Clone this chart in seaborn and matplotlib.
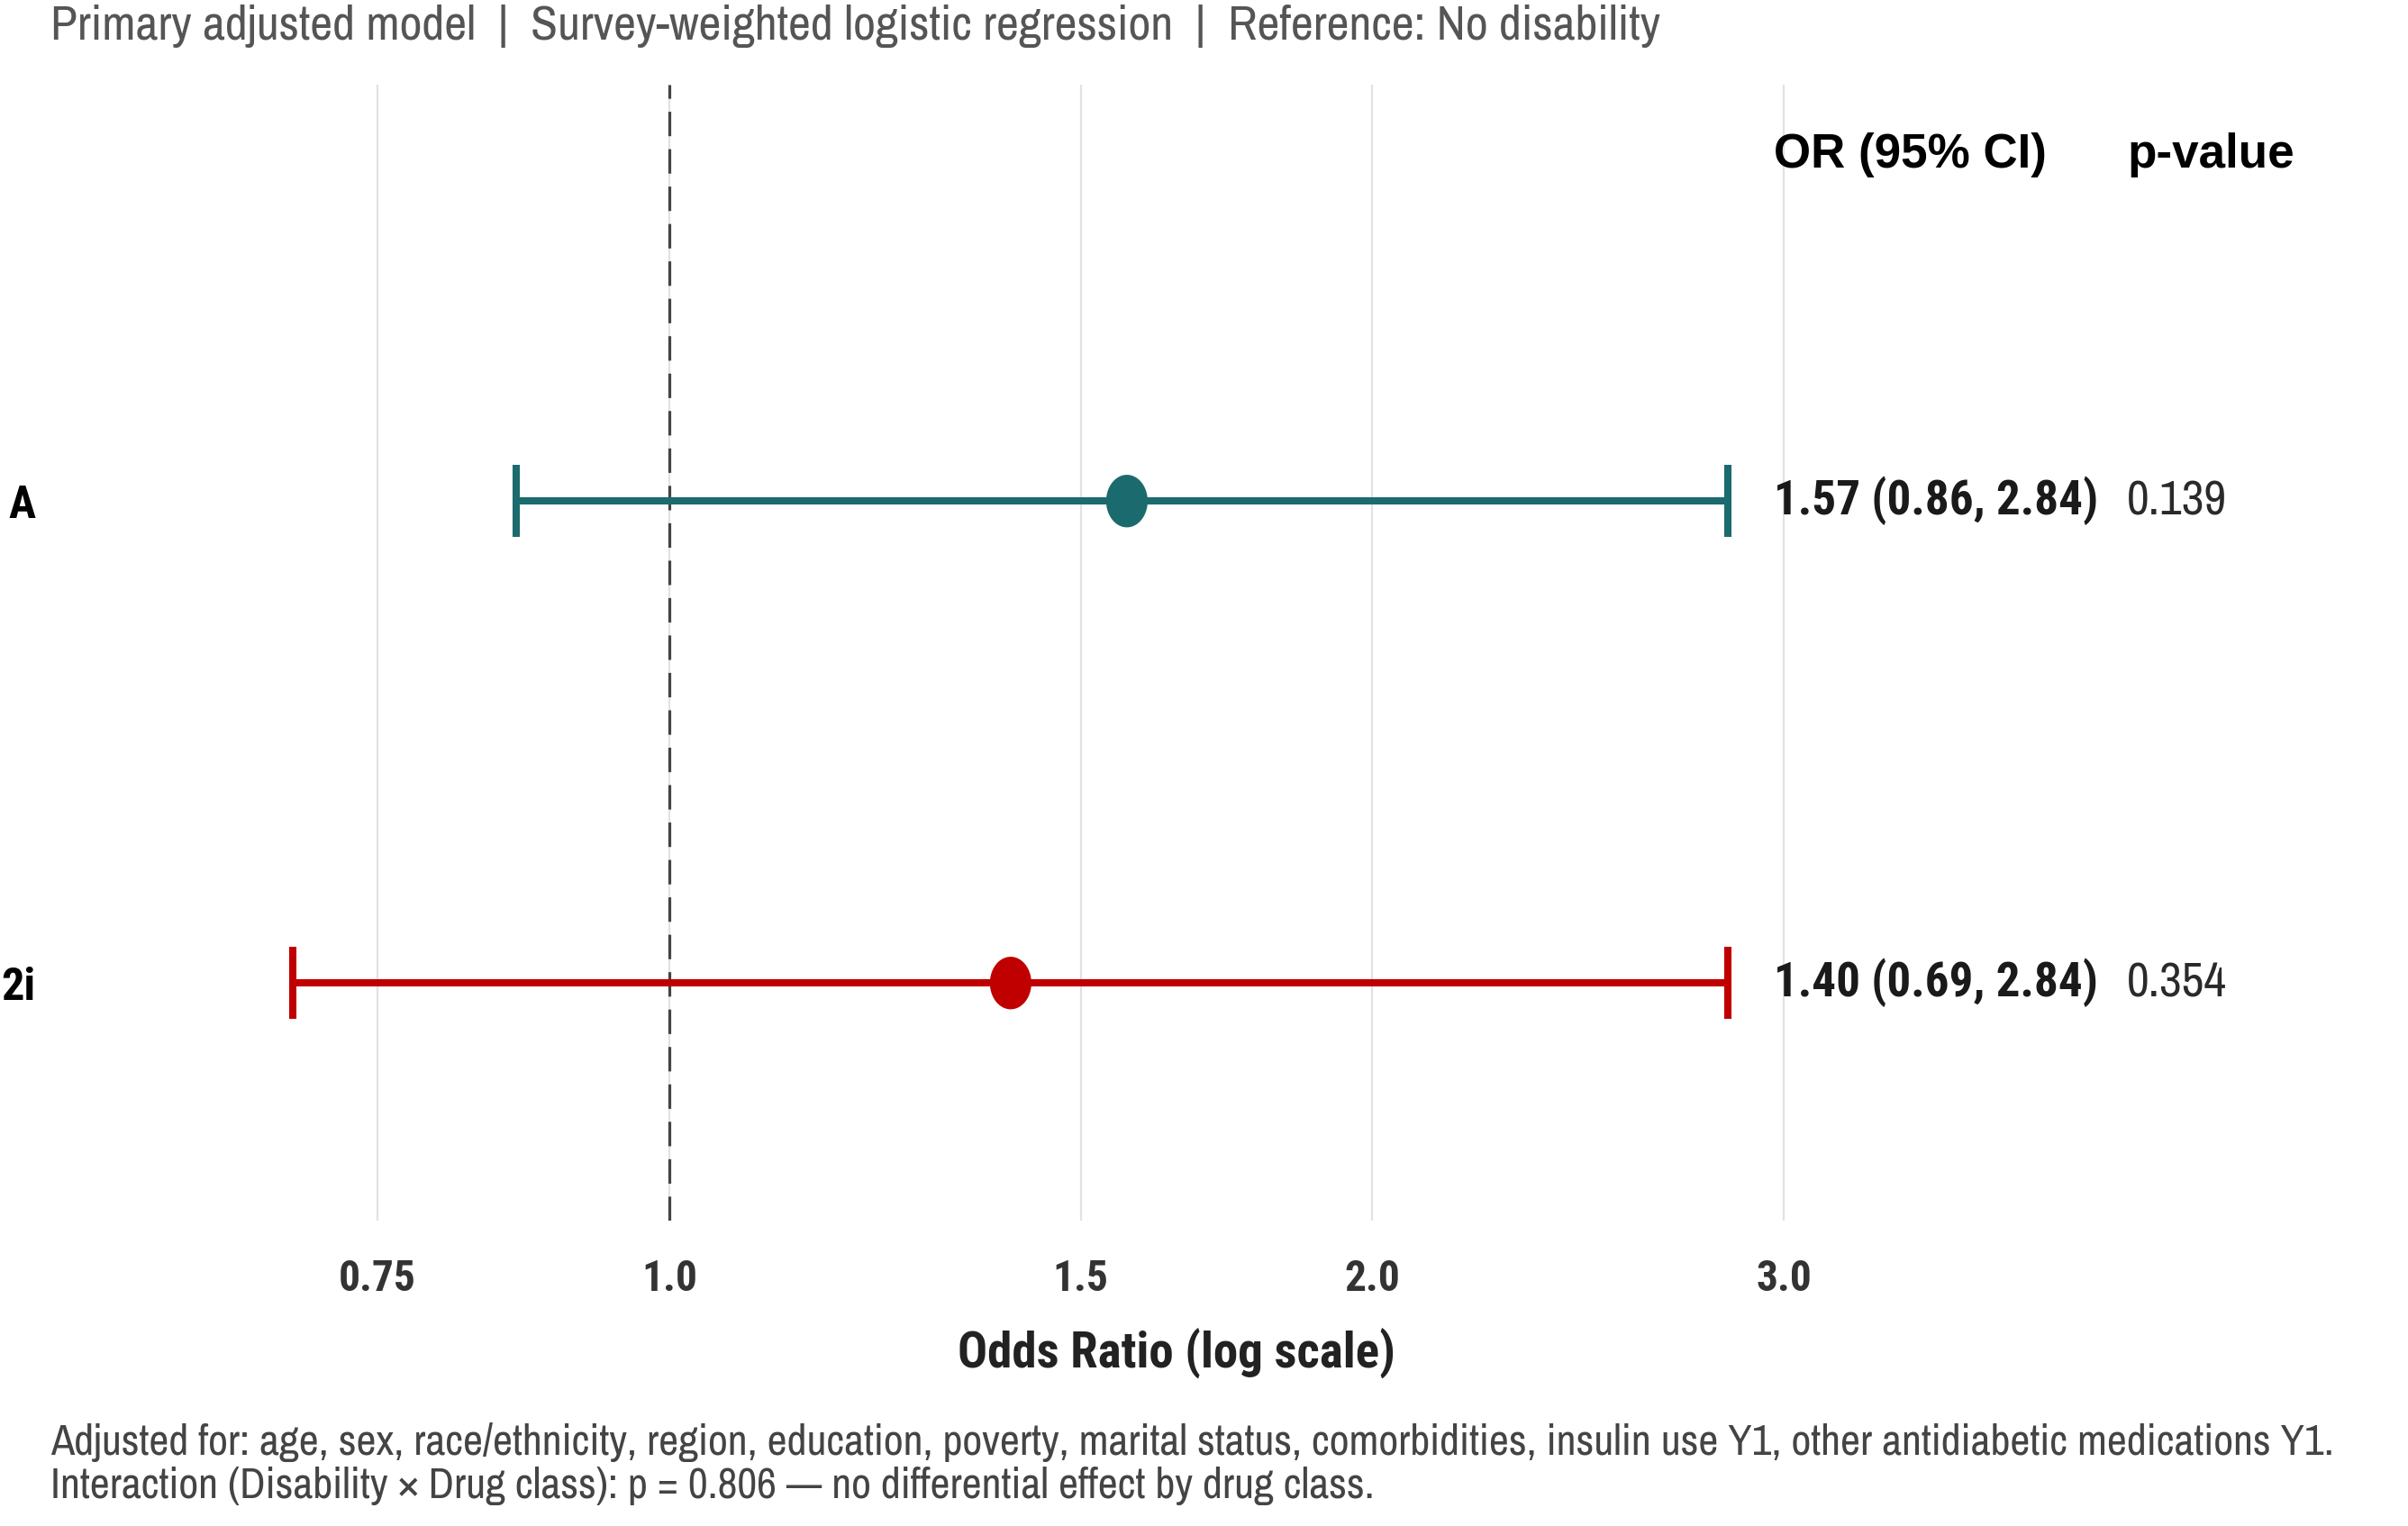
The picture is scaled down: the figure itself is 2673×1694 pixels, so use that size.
import numpy as np
import pandas as pd
import matplotlib
matplotlib.use("Agg")
import matplotlib.pyplot as plt
import matplotlib.path as mpath
import matplotlib.transforms as mtrans
from matplotlib import font_manager as fm
import seaborn as sns

# ---------------- data ----------------
drugs = ["A", "2i"]          # only the visible tail of the category labels
odds_ratio = [1.57, 1.40]
ci_low = [0.86, 0.69]
ci_high = [2.84, 2.84]
or_text = ["1.57 (0.86, 2.84)", "1.40 (0.69, 2.84)"]
p_text = ["0.139", "0.354"]
colors = ["#1B6B6E", "#C00000"]
x_ticks = [0.75, 1.0, 1.5, 2.0, 3.0]
x_tick_labels = ["0.75", "1.0", "1.5", "2.0", "3.0"]
subtitle = "Primary adjusted model  |  Survey-weighted logistic regression  |  Reference: No disability"
footnote1 = ("Adjusted for: age, sex, race/ethnicity, region, education, poverty, marital status, "
             "comorbidities, insulin use Y1, other antidiabetic medications Y1.")
footnote2 = "Interaction (Disability \u00d7 Drug class): p = 0.806 \u2014 no differential effect by drug class."

df = pd.DataFrame({"drug": drugs, "OR": odds_ratio, "lo": ci_low, "hi": ci_high})

# ---------------- style ----------------
sns.set_theme(style="white")
names = {f.name for f in fm.fontManager.ttflist}
REG = "Liberation Sans"
NARROW = next((n for n in ["Archivo Narrow", "Roboto Condensed"] if n in names), REG)
NARROW_B = next((n for n in ["Roboto Condensed", "Archivo Narrow"] if n in names), REG)
plt.rcParams["font.family"] = [REG, "DejaVu Sans"]

W, H = 2673, 1694
fig = plt.figure(figsize=(W / 100, H / 100), dpi=100)
fig.patch.set_facecolor("white")
renderer = fig.canvas.get_renderer()


def fit_size(text, target_px, family, weight="normal", start=30.0):
    fs = start
    for _ in range(3):
        t = fig.text(0, 0, text, fontsize=fs, family=family, weight=weight)
        w = t.get_window_extent(renderer=renderer).width
        t.remove()
        fs = fs * target_px / w
    return fs


def fx(px):
    return px / W


def fy(py):
    return 1 - py / H


ax_left, ax_right, ax_top, ax_bottom = 45, 2567, 94, 1355
ax = fig.add_axes([fx(ax_left), fy(ax_bottom), fx(ax_right - ax_left), (ax_bottom - ax_top) / H])
ax.set_facecolor("white")

px_per_ln = 1126.0
x_one = 743.0
ax.set_xscale("log")
ax.set_xlim(np.exp((ax_left - x_one) / px_per_ln), np.exp((ax_right - x_one) / px_per_ln))

ax.set_xticks(x_ticks)
ax.set_xticklabels(x_tick_labels)
ax.minorticks_off()
ax.xaxis.grid(True, color="#E2E2E2", lw=1.6, zorder=0)
ax.yaxis.grid(False)
ax.set_axisbelow(True)
for s in ax.spines.values():
    s.set_visible(False)

ax.axvline(1.0, color="#444444", lw=2.3, linestyle=(0, (8.5, 4.5)), zorder=1)

ypos = np.arange(len(df))
for i, row in df.iterrows():
    ax.errorbar(row["OR"], ypos[i], xerr=[[row["OR"] - row["lo"]], [row["hi"] - row["OR"]]],
                fmt="none", ecolor=colors[i], elinewidth=5.8, capsize=29, capthick=5.8, zorder=2)

theta = np.linspace(0, 2 * np.pi, 80)
verts = np.column_stack([0.79 * np.cos(theta), np.sin(theta)])
ell = mpath.Path(verts, closed=True)
sns.scatterplot(data=df, x="OR", y="drug", hue="drug", palette=colors, s=42 ** 2,
                marker=ell, linewidth=0, legend=False, ax=ax, zorder=3)

ax.set_ylim(1.493, -0.864)
ax.set_yticks(ypos)
ax.set_ylabel("")
ax.set_xlabel("")

tick_fs = fit_size("0.75", 86, NARROW_B, "bold")
ylab_fs = fit_size("A", 30, NARROW_B, "bold")
xlab_fs = fit_size("Odds Ratio (log scale)", 486, NARROW_B, "bold")
sub_fs = fit_size("Primary adjusted model", 472, NARROW)
foot_fs = fit_size(footnote1, 2534, NARROW)
head_fs = fit_size("OR (95% CI)", 303, REG, "bold")
orv_fs = fit_size(or_text[0], 360, NARROW_B, "bold")
pv_fs = fit_size(p_text[0], 111, NARROW)

ax.set_yticklabels(drugs, fontsize=ylab_fs, fontweight="bold", color="black", family=NARROW_B)
ax.set_xticklabels(x_tick_labels, fontsize=tick_fs, fontweight="bold", color="#333333", family=NARROW_B)
ax.tick_params(axis="y", length=0, pad=4)
ax.tick_params(axis="x", length=0, pad=30)

fig.text(fx(1306), fy(1502), "Odds Ratio (log scale)", ha="center", va="center",
         fontsize=xlab_fs, fontweight="bold", color="#222222", family=NARROW_B)

bt = mtrans.blended_transform_factory(fig.transFigure, ax.transData)
col_or, col_p = fx(1969), fx(2361)
header_y = -0.718
ax.text(col_or, header_y, "OR (95% CI)", transform=bt, ha="left", va="center",
        fontsize=head_fs, fontweight="bold", color="black", family=REG)
ax.text(col_p, header_y, "p-value", transform=bt, ha="left", va="center",
        fontsize=head_fs, fontweight="bold", color="black", family=REG)
for i in range(len(df)):
    ax.text(col_or, ypos[i], or_text[i], transform=bt, ha="left", va="center",
            fontsize=orv_fs, fontweight="bold", color="#1A1A1A", family=NARROW_B, clip_on=False)
    ax.text(col_p, ypos[i], p_text[i], transform=bt, ha="left", va="center",
            fontsize=pv_fs, color="#2A2A2A", family=NARROW, clip_on=False)

fig.text(fx(56), fy(29), subtitle, ha="left", va="center", fontsize=sub_fs,
         color="#555555", family=NARROW)
fig.text(fx(56), fy(1601), footnote1, ha="left", va="center", fontsize=foot_fs,
         color="#444444", family=NARROW)
fig.text(fx(56), fy(1649), footnote2, ha="left", va="center", fontsize=foot_fs,
         color="#444444", family=NARROW)

fig.savefig("out.png", dpi=100, facecolor="white")
